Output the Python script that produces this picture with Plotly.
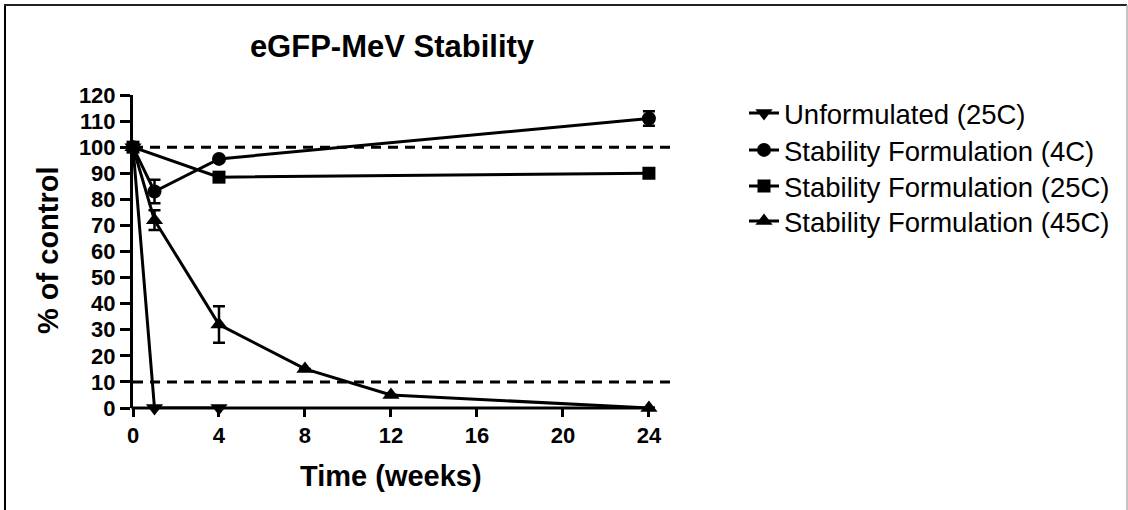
import plotly.graph_objects as go

# ---- data ----
weeks_unf = [0, 1, 4]
unf_25c = [100, 0, 0]

weeks_4c = [0, 1, 4, 24]
form_4c = [100, 83, 95.5, 111]
err_4c = [float("nan"), 4.5, float("nan"), 2.8]

weeks_25c = [0, 4, 24]
form_25c = [100, 88.5, 90]

weeks_45c = [0, 1, 4, 8, 12, 24]
form_45c = [100, 72, 32, 15, 5, 0]
err_45c = [float("nan"), 3.8, 7, float("nan"), float("nan"), float("nan")]

x_ticks = [0, 4, 8, 12, 16, 20, 24]
ref_lines = [100, 10]

W, H = 1128, 510
ML, MR, MT, MB = 133, 455, 95, 102
PW, PH = W - ML - MR, H - MT - MB
X_MAX = 25.12
FONT = "Liberation Sans, Arial, sans-serif"

def px_x(px):
    return (px - ML) / PW

def px_y(py):
    return (H - MB - py) / PH

fig = go.Figure()
line = dict(color="black", width=3)
common = dict(mode="lines+markers", line=line, cliponaxis=False)

fig.add_trace(go.Scatter(x=weeks_unf, y=unf_25c, name="Unformulated (25C)", legend="legend",
                         marker=dict(symbol="triangle-down", size=15, color="black"), **common))
fig.add_trace(go.Scatter(x=weeks_4c, y=form_4c, name="Stability Formulation (4C)", legend="legend2",
                         marker=dict(symbol="circle", size=14, color="black"),
                         error_y=dict(type="data", array=err_4c, color="black", thickness=2.5, width=6),
                         **common))
fig.add_trace(go.Scatter(x=weeks_25c, y=form_25c, name="Stability Formulation (25C)", legend="legend3",
                         marker=dict(symbol="square", size=13, color="black"), **common))
fig.add_trace(go.Scatter(x=weeks_45c, y=form_45c, name="Stability Formulation (45C)", legend="legend4",
                         marker=dict(symbol="triangle-up", size=15, color="black"),
                         error_y=dict(type="data", array=err_45c, color="black", thickness=2.5, width=6),
                         **common))

shapes = []
for v in ref_lines:
    shapes.append(dict(type="line", xref="paper", yref="y", x0=0, x1=1, y0=v, y1=v,
                       line=dict(color="black", width=3, dash="10px,7px")))
# x axis line (ends just past 24)
shapes.append(dict(type="line", xref="paper", yref="paper", x0=px_x(131.5), x1=px_x(655), y0=0, y1=0,
                   line=dict(color="black", width=3)))
# outer frame
shapes.append(dict(type="line", xref="paper", yref="paper", x0=px_x(5), x1=px_x(5), y0=px_y(4), y1=px_y(520),
                   line=dict(color="black", width=2)))
shapes.append(dict(type="line", xref="paper", yref="paper", x0=px_x(4), x1=px_x(1127), y0=px_y(5), y1=px_y(5),
                   line=dict(color="#222222", width=2)))
shapes.append(dict(type="line", xref="paper", yref="paper", x0=px_x(1127), x1=px_x(1127), y0=px_y(5), y1=px_y(520),
                   line=dict(color="#b0b0b0", width=1.5)))

annotations = [
    dict(text="<b>Time (weeks)</b>", xref="paper", yref="paper", x=px_x(391), y=px_y(476),
         xanchor="center", yanchor="middle", showarrow=False, font=dict(size=29, color="black", family=FONT)),
    dict(text="<b>% of control</b>", xref="paper", yref="paper", x=px_x(48), y=px_y(250),
         xanchor="center", yanchor="middle", showarrow=False, textangle=-90,
         font=dict(size=29, color="black", family=FONT)),
]

legend_rows = [113, 150, 186, 221]
def leg(row):
    return dict(x=px_x(744), y=px_y(row), xanchor="left", yanchor="middle",
                font=dict(size=27.5, color="black", family=FONT),
                bgcolor="rgba(0,0,0,0)", itemwidth=30)

fig.update_layout(
    width=W, height=H,
    margin=dict(l=ML, r=MR, t=MT, b=MB),
    paper_bgcolor="white", plot_bgcolor="white",
    font=dict(family=FONT, color="black"),
    title=dict(text="<b>eGFP-MeV Stability</b>", xref="container", yref="container",
               x=392 / W, y=1 - 46 / H, xanchor="center", yanchor="middle",
               font=dict(size=31, color="black", family=FONT)),
    xaxis=dict(range=[0, X_MAX], tickvals=x_ticks, ticktext=[str(t) for t in x_ticks],
               ticks="outside", ticklen=8, tickwidth=3, tickcolor="black",
               showline=False, showgrid=False, zeroline=False,
               tickfont=dict(size=22, color="black", family=FONT, weight="bold"),
               fixedrange=True),
    yaxis=dict(range=[0, 120], dtick=10, tick0=0,
               ticks="outside", ticklen=10, tickwidth=3, tickcolor="black",
               showline=True, linewidth=3, linecolor="black",
               showgrid=False, zeroline=False,
               tickfont=dict(size=22, color="black", family=FONT, weight="bold"),
               fixedrange=True),
    legend=leg(legend_rows[0]),
    legend2=leg(legend_rows[1]),
    legend3=leg(legend_rows[2]),
    legend4=leg(legend_rows[3]),
    shapes=shapes,
    annotations=annotations,
    showlegend=True,
)

fig.write_html("out.html")
